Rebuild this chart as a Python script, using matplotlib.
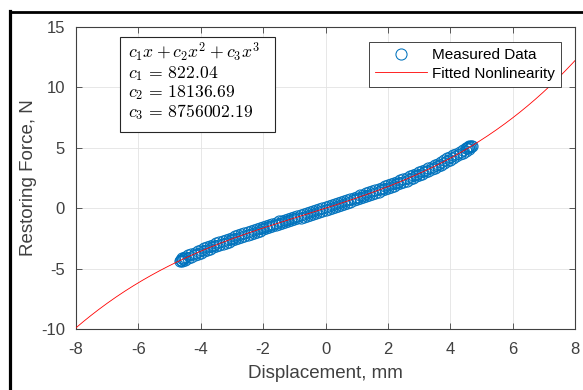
import numpy as np
import matplotlib
matplotlib.use("Agg")
import matplotlib.pyplot as plt
from matplotlib.lines import Line2D
from matplotlib.patches import Rectangle

# Fit coefficients (displayed in chart), x in metres
c1, c2, c3 = 822.04, 18136.69, 8756002.19

disp_a = [-4.6, -4.4, -4.2, -4.0, -3.8, -3.6, -3.4, -3.2, -3.0, -2.8, -2.6,
          -2.4, -2.2, -2.0, -1.8, -1.6, -1.4, -1.2, -1.0, -0.8, -0.6, -0.4, -0.2,
          0.0, 0.2, 0.4, 0.6, 0.8, 1.0, 1.2, 1.4, 1.6, 1.8, 2.0, 2.2, 2.4, 2.6,
          2.8, 3.0, 3.2, 3.4, 3.6, 3.8, 4.0, 4.2, 4.4, 4.6]
force_a_up = [-4.15, -3.91, -3.68, -3.46, -3.24, -3.03, -2.83, -2.63, -2.44, -2.25, -2.07,
              -1.89, -1.71, -1.54, -1.37, -1.20, -1.04, -0.88, -0.71, -0.55, -0.39, -0.23, -0.06,
              0.10, 0.27, 0.43, 0.60, 0.77, 0.95, 1.13, 1.31, 1.50, 1.69, 1.89, 2.09, 2.30, 2.51,
              2.74, 2.97, 3.20, 3.45, 3.70, 3.97, 4.24, 4.52, 4.81, 5.12]
force_a_dn = [-4.37, -4.13, -3.90, -3.68, -3.46, -3.25, -3.05, -2.85, -2.66, -2.47, -2.29,
              -2.11, -1.93, -1.76, -1.59, -1.42, -1.26, -1.10, -0.93, -0.77, -0.61, -0.45, -0.28,
              -0.12, 0.05, 0.21, 0.38, 0.55, 0.73, 0.91, 1.09, 1.28, 1.47, 1.67, 1.87, 2.08, 2.29,
              2.52, 2.75, 2.98, 3.23, 3.48, 3.75, 4.02, 4.30, 4.59, 4.90]
disp_b = [-4.5, -4.3, -4.1, -3.9, -3.7, -3.5, -3.3, -3.1, -2.9, -2.7, -2.5, -2.3, -2.1,
          -1.9, -1.7, -1.5, -1.3, -1.1, -0.9, -0.7, -0.5, -0.3, -0.1, 0.1, 0.3, 0.5,
          0.7, 0.9, 1.1, 1.3, 1.5, 1.7, 1.9, 2.1, 2.3, 2.5, 2.7, 2.9, 3.1, 3.3, 3.5,
          3.7, 3.9, 4.1, 4.3, 4.5]
force_b_dn = [-4.25, -4.02, -3.79, -3.57, -3.36, -3.15, -2.95, -2.76, -2.57, -2.38, -2.20, -2.02, -1.85,
              -1.68, -1.51, -1.34, -1.18, -1.01, -0.85, -0.69, -0.53, -0.37, -0.20, -0.04, 0.13, 0.30,
              0.47, 0.64, 0.82, 1.00, 1.18, 1.37, 1.57, 1.77, 1.97, 2.19, 2.40, 2.63, 2.86, 3.11, 3.36,
              3.61, 3.88, 4.16, 4.45, 4.75]
force_b_up = [-4.01, -3.78, -3.55, -3.33, -3.12, -2.91, -2.71, -2.52, -2.33, -2.14, -1.96, -1.78, -1.61,
              -1.44, -1.27, -1.10, -0.94, -0.77, -0.61, -0.45, -0.29, -0.13, 0.04, 0.20, 0.37, 0.54,
              0.71, 0.88, 1.06, 1.24, 1.42, 1.61, 1.81, 2.01, 2.21, 2.43, 2.64, 2.87, 3.10, 3.35, 3.60,
              3.85, 4.12, 4.40, 4.69, 4.99]
disp_end = [-4.66, -4.64, -4.62, -4.57, -4.53, 4.55, 4.58, 4.62, 4.66, 4.69]
force_end = [-4.34, -4.30, -4.26, -4.20, -4.14, 4.98, 5.04, 5.06, 5.12, 5.16]

xticks = [-8, -6, -4, -2, 0, 2, 4, 6, 8]
yticks = [-10, -5, 0, 5, 10, 15]

plt.rcParams['font.family'] = ['Liberation Sans', 'DejaVu Sans']
plt.rcParams['mathtext.fontset'] = 'cm'
plt.rcParams['axes.unicode_minus'] = False

W, H = 583, 390
fig = plt.figure(figsize=(W/100, H/100), dpi=100)
ax = fig.add_axes([76/W, 1-329/H, (575-76)/W, (329-27)/H])

dx = np.concatenate([disp_a, disp_a, disp_b, disp_b, disp_end])
fy = np.concatenate([force_a_up, force_a_dn, force_b_dn, force_b_up, force_end])
ax.plot(dx, fy, 'o', ls='none', ms=8, mfc='none', mec='#0072BD', mew=0.75,
        label='Measured Data', zorder=3)

xf = np.linspace(-8, 8, 400)
xm = xf * 1e-3
ax.plot(xf, c1*xm + c2*xm**2 + c3*xm**3, color='#ff0000', lw=0.6, label='Fitted Nonlinearity', zorder=4)

ax.set_xlim(-8, 8)
ax.set_ylim(-10, 15)
ax.set_xticks(xticks)
ax.set_yticks(yticks)
ax.grid(True, color='#e3e3e3', lw=0.6)
ax.set_axisbelow(True)
dark = '#404040'
for s in ax.spines.values():
    s.set_color(dark)
    s.set_linewidth(0.8)
ax.tick_params(direction='in', length=4, width=0.6, colors=dark, labelsize=12,
               top=True, right=True, labelcolor='#404040')
ax.tick_params(axis='x', pad=9)
ax.tick_params(axis='y', pad=8)
ax.set_xlabel('Displacement, mm', fontsize=13.5, color='#404040', labelpad=6)
ax.set_ylabel('Restoring Force, N', fontsize=13.5, color='#404040', labelpad=3)

# annotation box (MATLAB-style fixed-size textbox)
fig.add_artist(Rectangle((120/W, 1-132/H), 155/W, 95/H, transform=fig.transFigure,
                         fc='white', ec='#262626', lw=0.8, zorder=5))
txt = ('$c_1x + c_2x^2 + c_3x^3$\n$c_1 \\,=\\, 822.04$\n$c_2 \\,=\\, 18136.69$\n$c_3 \\,=\\, 8756002.19$')
fig.text(128/W, 1-41/H, txt, fontsize=12.7, va='top', ha='left', linespacing=1.0, zorder=6)

leg = ax.legend(loc='upper right', bbox_to_anchor=((561-76)/499, 1-(42-27)/302), fontsize=11,
                frameon=True, fancybox=False, edgecolor='#262626', framealpha=1, handlelength=3.4,
                handletextpad=0.3, borderpad=0.4, labelspacing=0.3, borderaxespad=0)
leg.get_frame().set_linewidth(0.6)

fig.add_artist(Line2D([9.5/W, 9.5/W], [0, 1-11/H], color='black', lw=2.3,
                      transform=fig.transFigure, solid_capstyle='projecting'))
fig.add_artist(Line2D([9.5/W, 1], [1-12/H, 1-12/H], color='black', lw=2.0,
                      transform=fig.transFigure))

fig.savefig('out.png', dpi=100)
